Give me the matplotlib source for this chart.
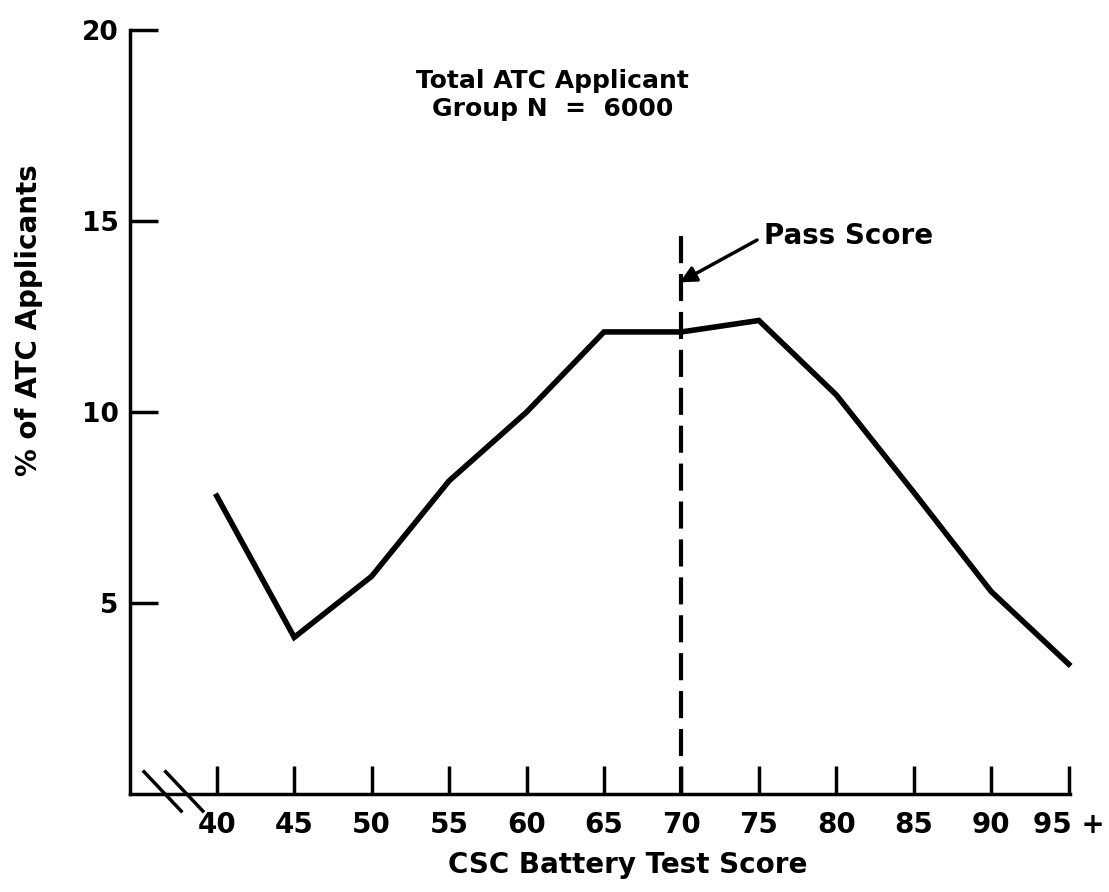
import matplotlib
matplotlib.use('Agg')
from matplotlib import pyplot as plt

# values
scores = [40, 45, 50, 55, 60, 65, 70, 75, 80, 85, 90, 95]
score_labels = ['40', '45', '50', '55', '60', '65', '70', '75', '80', '85', '90', '95 +']
pct = [7.8, 4.1, 5.7, 8.2, 10.0, 12.1, 12.1, 12.4, 10.45, 7.9, 5.3, 3.4]
y_ticks = [5, 10, 15, 20]
pass_score = 70

plt.rcParams['font.family'] = ['DejaVu Sans']
plt.rcParams['font.weight'] = 'bold'

fig = plt.figure(figsize=(11.09, 8.92), dpi=100)
ax = fig.add_axes([0.117, 0.110, 0.848, 0.856])

ax.plot(scores, pct, color='black', lw=4, solid_joinstyle='miter', clip_on=False)
ax.plot([pass_score, pass_score], [0, 14.6], color='black', lw=3,
        linestyle=(0, (6.5, 2.6)))

ax.set_xlim(34.38, 95.1)
ax.set_ylim(0, 20)
ax.spines['top'].set_visible(False)
ax.spines['right'].set_visible(False)
ax.spines['left'].set_linewidth(2.5)
ax.spines['bottom'].set_linewidth(2.5)

ax.set_xticks(scores)
ax.set_xticklabels(score_labels, fontsize=20, fontweight='bold')
ax.set_yticks(y_ticks)
ax.set_yticklabels([str(t) for t in y_ticks], fontsize=19, fontweight='bold')
ax.tick_params(axis='x', direction='in', length=20, width=2.5, pad=12)
ax.tick_params(axis='y', direction='in', length=20, width=2.5, pad=8)

ax.set_xlabel('CSC Battery Test Score', fontsize=20, fontweight='bold')
ax.xaxis.set_label_coords(0.529, -0.075)
ax.set_ylabel('% of ATC Applicants', fontsize=20, fontweight='bold')
ax.yaxis.set_label_coords(-0.092, 0.62)

ax.text(61.7, 18.3, 'Total ATC Applicant\nGroup N  =  6000', ha='center', va='center',
        fontsize=18, fontweight='bold', linespacing=1.2)

ax.annotate('Pass Score', xy=(69.9, 13.4), xytext=(75.3, 14.6),
            fontsize=20, fontweight='bold', va='center', ha='left',
            arrowprops=dict(arrowstyle='-|>', color='black', lw=2.5,
                            mutation_scale=24, shrinkA=3, shrinkB=0,
                            relpos=(0, 0.5)))

# axis break marks
for x0 in (35.3, 36.7):
    ax.plot([x0, x0 + 2.4], [0.58, -0.45], color='black', lw=2.5, clip_on=False)

fig.savefig('out.png', dpi=100, facecolor='white')
